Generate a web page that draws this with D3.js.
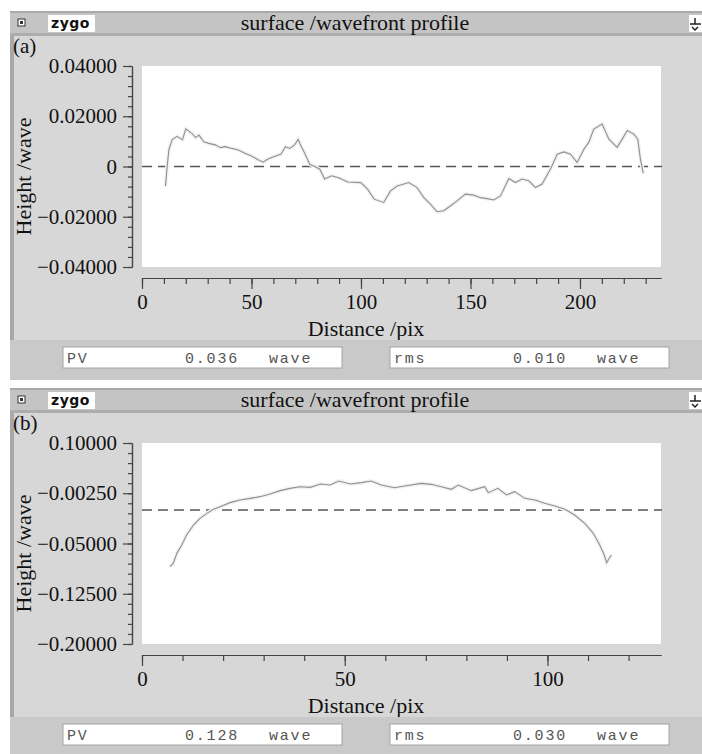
<!DOCTYPE html>
<html>
<head>
<meta charset="utf-8">
<script src="https://cdn.jsdelivr.net/npm/d3@7"></script>
<style>
  body { margin: 0; background: #fff; }
  svg { display: block; }
  text { font-family: "Liberation Serif", "Times New Roman", serif; fill: #111; }
</style>
</head>
<body>
<svg id="chart" width="702" height="754"></svg>
<script>
// panel (a) profile
const distA = [10.7, 11.5, 12.3, 13.8, 16, 18.5, 20, 21.5, 23, 24.5, 26, 28.2, 30.5, 33.5, 35.8, 38, 41, 44, 47, 50,
  53, 55.3, 57.5, 60.5, 63.5, 65.5, 67.5, 69.7, 71.3, 72.8, 74.3, 76.6, 78.9, 81.2, 83.4, 86.5, 89.5, 94, 99.9, 103,
  106, 110.4, 113.5, 116.5, 121.8, 125.6, 128.7, 131.7, 134.7, 137.8, 140.8, 143.9, 147.7, 151.5, 154.5, 157.6, 160.6, 163.7, 167.5, 170.5,
  173.6, 176.6, 179.7, 182.7, 186.5, 189.6, 192.6, 195.7, 198.7, 201.8, 204, 206.3, 210.1, 213.2, 217, 219.3, 221.6, 224.6, 226.4, 227.6, 228.9];
const heightA = [-0.0078, 0.0, 0.0068, 0.0107, 0.012, 0.0107, 0.015, 0.014, 0.013, 0.0115, 0.0125, 0.0098, 0.0092, 0.0086, 0.0075, 0.0079, 0.0072, 0.0066, 0.0053, 0.0042,
  0.0027, 0.0017, 0.003, 0.004, 0.005, 0.0079, 0.0072, 0.0086, 0.0108, 0.0079, 0.0053, 0.0009, 0.0, -0.0011, -0.005, -0.0037, -0.0044, -0.0062, -0.0064, -0.009,
  -0.013, -0.0143, -0.0097, -0.0078, -0.0064, -0.0084, -0.0124, -0.015, -0.018, -0.0176, -0.0157, -0.0137, -0.011, -0.0114, -0.0124, -0.0128, -0.0133, -0.0117, -0.0048, -0.0064,
  -0.005, -0.0057, -0.0084, -0.007, -0.0011, 0.0049, 0.0058, 0.0049, 0.0016, 0.0069, 0.0096, 0.0149, 0.0169, 0.0109, 0.0076, 0.0109, 0.0143, 0.0129, 0.0109, 0.0029, -0.0027];

// panel (b) profile
const distB = [6.9, 7.7, 8.6, 9.8, 11, 12.7, 14.3, 16, 17.6, 19.3, 21.7, 24.2, 26.7, 29.1, 31.6, 34.1, 36.5, 39, 41.5, 44,
  46.4, 48.5, 51.4, 54.1, 56.5, 59, 62.3, 64.8, 68.9, 71.3, 73.8, 76.3, 78, 81.2, 84.5, 85.4, 87.8, 89.9, 91.9, 94.4,
  96.9, 99.3, 101.8, 104.3, 106.7, 109.2, 111.3, 112.9, 114, 114.6, 115.4, 115.8];
const heightB = [-0.0846, -0.0796, -0.0647, -0.0522, -0.0373, -0.0224, -0.0124, -0.005, 0.001, 0.005, 0.011, 0.015, 0.0174, 0.0199, 0.0239, 0.0289, 0.0323, 0.0348, 0.0338, 0.0388,
  0.0373, 0.0433, 0.0388, 0.0408, 0.0433, 0.0373, 0.0333, 0.0358, 0.0398, 0.0383, 0.0348, 0.0309, 0.0373, 0.0289, 0.0348, 0.0259, 0.0323, 0.0224, 0.0274, 0.0174,
  0.0149, 0.01, 0.006, 0.001, -0.0075, -0.0199, -0.0348, -0.0522, -0.0672, -0.0786, -0.0706, -0.0672];

const yTicksA = [0.04, 0.02, 0, -0.02, -0.04];
const yLabelsA = ["0.04000", "0.02000", "0", "\u22120.02000", "\u22120.04000"];
const yTicksB = [0.1, 0.025, -0.05, -0.125, -0.2];
const yLabelsB = ["0.10000", "\u22120.00250", "\u22120.05000", "\u22120.12500", "\u22120.20000"];
const xTicksA = [0, 50, 100, 150, 200];
const xTicksB = [0, 50, 100];
const panelTags = ["(a)", "(b)"];
const pvValues = ["0.036", "0.128"];
const rmsValues = ["0.010", "0.030"];

const svg = d3.select('#chart');

const panels = [
  { top: 0, tag: panelTags[0], dist: distA, height: heightA, xMax: 237, xTicks: xTicksA, xMinor: 10,
    yDomain: [-0.04, 0.04], yTicks: yTicksA, yLabels: yLabelsA, pv: pvValues[0], rms: rmsValues[0] },
  { top: 377, tag: panelTags[1], dist: distB, height: heightB, xMax: 128, xTicks: xTicksB, xMinor: 10,
    yDomain: [-0.2, 0.1], yTicks: yTicksB, yLabels: yLabelsB, pv: pvValues[1], rms: rmsValues[1] }
];

function drawPanel(p) {
    let g = svg.append('g').attr('transform', `translate(0,${p.top})`);

    // window frame
    g.append('rect').attr('x', 10).attr('y', 11).attr('width', 692).attr('height', 369).attr('fill', '#d7d7d7');
    g.append('rect').attr('x', 10).attr('y', 11).attr('width', 4).attr('height', 330).attr('fill', '#a8a8a8');
    g.append('rect').attr('x', 10).attr('y', 11).attr('width', 692).attr('height', 24).attr('fill', '#c4c4c4');
    g.append('rect').attr('x', 10).attr('y', 11).attr('width', 692).attr('height', 2).attr('fill', '#a9a9a9');
    g.append('rect').attr('x', 10).attr('y', 33).attr('width', 692).attr('height', 3).attr('fill', '#adadad');

    // title bar bits
    g.append('rect').attr('x', 18).attr('y', 19).attr('width', 7).attr('height', 7)
        .attr('fill', '#fff').attr('stroke', '#333').attr('stroke-width', 1);
    g.append('rect').attr('x', 20).attr('y', 21).attr('width', 3).attr('height', 3).attr('fill', '#333');
    g.append('rect').attr('x', 48).attr('y', 15).attr('width', 47).attr('height', 17).attr('fill', '#fff');
    g.append('text').attr('x', 51).attr('y', 28)
        .style('font-family', '"DejaVu Sans", sans-serif').style('font-weight', 'bold')
        .style('font-size', '14px').style('letter-spacing', '0.5px').text('zygo');
    g.append('text').attr('x', 355).attr('y', 30).attr('text-anchor', 'middle')
        .style('font-size', '22px').text('surface /wavefront profile');
    g.append('rect').attr('x', 689).attr('y', 15).attr('width', 13).attr('height', 17).attr('fill', '#fff');
    g.append('path').attr('d', 'M690 24 h11 M695 18 v6 M692 27 l3 3 l3 -3')
        .attr('stroke', '#222').attr('stroke-width', 1.5).attr('fill', 'none');

    g.append('text').attr('x', 13).attr('y', 53).style('font-size', '21px').text(p.tag);

    // plot area
    g.append('rect').attr('x', 142).attr('y', 66).attr('width', 519).attr('height', 201).attr('fill', '#fff');

    let x = d3.scaleLinear().domain([0, p.xMax]).range([142, 661]);
    let y = d3.scaleLinear().domain(p.yDomain).range([267, 66]);

    // y axis, minor then major
    let yStep = (p.yTicks[0] - p.yTicks[1]) / 5;
    let yMinor = d3.range(0, 21).map(i => p.yDomain[0] + i * yStep);
    g.append('g').attr('transform', 'translate(132,0)')
        .call(d3.axisLeft(y).tickValues(yMinor).tickSize(4).tickSizeOuter(0).tickFormat(''));
    let yAx = g.append('g').attr('transform', 'translate(132,0)')
        .call(d3.axisLeft(y).tickValues(p.yTicks).tickSize(9).tickSizeOuter(0).tickPadding(6)
            .tickFormat((d, i) => p.yLabels[i]));
    yAx.selectAll('text').style('font-size', '21px').style('font-family', '"Liberation Serif", serif');

    // x axis
    let xMinor = d3.range(0, p.xMax + 0.001, p.xMinor);
    g.append('g').attr('transform', 'translate(0,278)')
        .call(d3.axisBottom(x).tickValues(xMinor).tickSize(6).tickSizeOuter(0).tickFormat(''));
    let xAx = g.append('g').attr('transform', 'translate(0,278)')
        .call(d3.axisBottom(x).tickValues(p.xTicks).tickSize(11).tickSizeOuter(0).tickPadding(5));
    xAx.selectAll('text').style('font-size', '21px').style('font-family', '"Liberation Serif", serif');

    g.selectAll('.domain, .tick line').attr('stroke', '#444').attr('stroke-width', 1.2);

    g.append('text').attr('transform', `translate(31,${(66 + 267) / 2 + 10}) rotate(-90)`)
        .attr('text-anchor', 'middle').style('font-size', '22px').text('Height /wave');
    g.append('text').attr('x', 366).attr('y', 336).attr('text-anchor', 'middle')
        .style('font-size', '22px').text('Distance /pix');

    // reference line and profile
    g.append('line').attr('x1', 142).attr('x2', 662).attr('y1', y(0)).attr('y2', y(0))
        .attr('stroke', '#555').attr('stroke-width', 1.5).attr('stroke-dasharray', '10,6');

    let pts = d3.zip(p.dist, p.height);
    let line = d3.line().x(d => x(d[0])).y(d => y(d[1]));
    g.append('path').datum(pts).attr('d', line)
        .attr('fill', 'none').attr('stroke', '#f2f2f2').attr('stroke-width', 4);
    g.append('path').datum(pts).attr('d', line)
        .attr('fill', 'none').attr('stroke', '#909090').attr('stroke-width', 1.1);

    // stats strip
    g.append('rect').attr('x', 10).attr('y', 340).attr('width', 692).attr('height', 40).attr('fill', '#c9c9c9');
    let boxes = [
        { x: 63, name: 'PV', value: p.pv, vx: 185, ux: 269 },
        { x: 390, name: 'rms', value: p.rms, vx: 513, ux: 597 }
    ];
    boxes.forEach(b => {
        g.append('rect').attr('x', b.x).attr('y', 347).attr('width', 279).attr('height', 21)
            .attr('fill', '#fff').attr('stroke', '#a4a4a4');
        let t = [[b.x + 4, b.name], [b.vx, b.value], [b.ux, 'wave']];
        t.forEach(d => {
            g.append('text').attr('x', d[0]).attr('y', 363)
                .style('font-family', '"Liberation Mono", "DejaVu Sans Mono", monospace')
                .style('font-size', '15px').style('letter-spacing', '1.8px').style('fill', '#555')
                .text(d[1]);
        });
    });
}

panels.forEach(drawPanel);
</script>
</body>
</html>
